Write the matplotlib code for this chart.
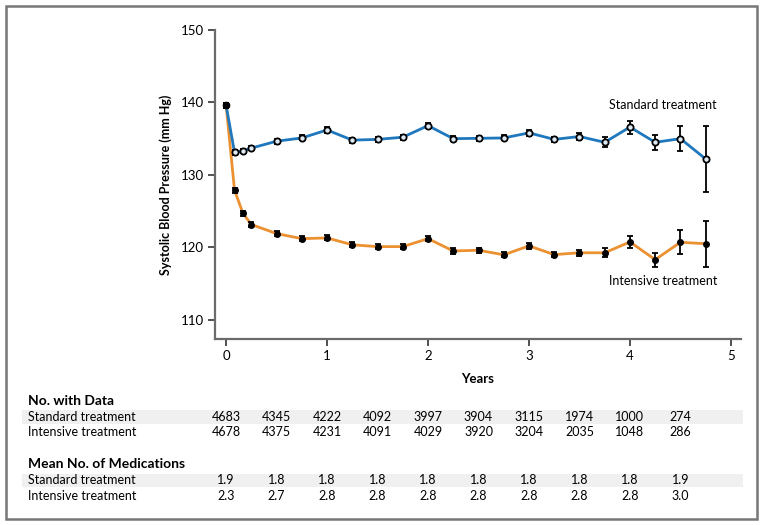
import matplotlib
matplotlib.use("Agg")
import matplotlib.pyplot as plt
from matplotlib.transforms import blended_transform_factory
from matplotlib.patches import Rectangle

plt.rcParams['font.family'] = ['Lato', 'DejaVu Sans']

years = [0, 1/12, 2/12, 0.25, 0.5, 0.75, 1.0, 1.25, 1.5, 1.75, 2.0, 2.25,
         2.5, 2.75, 3.0, 3.25, 3.5, 3.75, 4.0, 4.25, 4.5, 4.75]
standard_sbp = [139.6, 133.1, 133.3, 133.7, 134.65, 135.1, 136.2, 134.8, 134.9,
                135.2, 136.8, 135.0, 135.05, 135.1, 135.8, 134.9, 135.3, 134.5,
                136.6, 134.5, 135.0, 132.2]
standard_err = [0.3, 0.35, 0.3, 0.3, 0.35, 0.35, 0.35, 0.35, 0.35, 0.35, 0.35,
                0.35, 0.35, 0.35, 0.4, 0.4, 0.45, 0.7, 0.9, 1.05, 1.7, 4.5]
intensive_sbp = [139.6, 127.9, 124.7, 123.15, 121.9, 121.2, 121.3, 120.35, 120.1,
                 120.1, 121.2, 119.5, 119.6, 118.97, 120.2, 119.0, 119.25, 119.25,
                 120.75, 118.3, 120.7, 120.5]
intensive_err = [0.3, 0.35, 0.35, 0.35, 0.35, 0.35, 0.35, 0.35, 0.35, 0.35, 0.35,
                 0.35, 0.35, 0.35, 0.4, 0.4, 0.45, 0.6, 0.85, 0.95, 1.65, 3.15]

table_years = [0, 0.5, 1.0, 1.5, 2.0, 2.5, 3.0, 3.5, 4.0, 4.5]
n_standard = ["4683", "4345", "4222", "4092", "3997", "3904", "3115", "1974", "1000", "274"]
n_intensive = ["4678", "4375", "4231", "4091", "4029", "3920", "3204", "2035", "1048", "286"]
med_standard = ["1.9", "1.8", "1.8", "1.8", "1.8", "1.8", "1.8", "1.8", "1.8", "1.9"]
med_intensive = ["2.3", "2.7", "2.8", "2.8", "2.8", "2.8", "2.8", "2.8", "2.8", "3.0"]

BLUE = '#1f78bd'
ORANGE = '#ec9131'
W, H = 764, 525

fig = plt.figure(figsize=(7.64, 5.25), dpi=100)
ax = fig.add_axes([215/W, 1 - 339/H, (741-215)/W, (339-30)/H])

ax.plot(years, intensive_sbp, color=ORANGE, lw=2, zorder=2)
ax.plot(years, standard_sbp, color=BLUE, lw=2, zorder=2)
ax.errorbar(years, intensive_sbp, yerr=intensive_err, fmt='o', color='black',
            ms=4, capsize=2.5, elinewidth=1.3, capthick=1.3, zorder=3)
ax.errorbar(years[1:], standard_sbp[1:], yerr=standard_err[1:], fmt='o', color='black',
            mfc='#dde9f3', mec='black', mew=1.3, ms=4.5, capsize=2.5,
            elinewidth=1.3, capthick=1.3, zorder=3)
ax.errorbar(years[:1], standard_sbp[:1], yerr=standard_err[:1], fmt='o', color='black',
            ms=4.5, capsize=2.5, elinewidth=1.3, capthick=1.3, zorder=4)

ax.set_xlim(-0.11, 5.1)
ax.set_ylim(107.35, 150)
ax.set_xticks([0, 1, 2, 3, 4, 5])
ax.set_yticks([110, 120, 130, 140, 150])
for s in ['top', 'right']:
    ax.spines[s].set_visible(False)
for s in ['left', 'bottom']:
    ax.spines[s].set_color('#6b6b6b')
    ax.spines[s].set_linewidth(1.6)
ax.tick_params(direction='out', length=5, width=1.2, color='#333333',
               labelsize=9.5, pad=3)
ax.set_xlabel('Years', fontsize=9.5, fontweight='bold', labelpad=8)
ax.set_ylabel('Systolic Blood Pressure (mm Hg)', fontsize=9, fontweight='bold',
              labelpad=6)

ax.text(3.79, 139.66, 'Standard treatment', fontsize=9, va='center', ha='left')
ax.text(3.79, 115.3, 'Intensive treatment', fontsize=9, va='center', ha='left')

# Table beneath
tr = blended_transform_factory(ax.transData, fig.transFigure)

def fy(p):
    return 1 - p / H

for y0, y1 in [(410, 424), (474, 487)]:
    fig.patches.append(Rectangle((22/W, fy(y1)), (743-22)/W, (y1-y0)/H,
                                 transform=fig.transFigure, facecolor='#f0f0f0',
                                 edgecolor='none', zorder=0))

fig.text(28/W, fy(401), 'No. with Data', fontsize=10, fontweight='bold', va='center')
fig.text(28/W, fy(417), 'Standard treatment', fontsize=9, va='center')
fig.text(28/W, fy(432), 'Intensive treatment', fontsize=9, va='center')
fig.text(28/W, fy(464), 'Mean No. of Medications', fontsize=10, fontweight='bold', va='center')
fig.text(28/W, fy(480), 'Standard treatment', fontsize=9, va='center')
fig.text(28/W, fy(496), 'Intensive treatment', fontsize=9, va='center')

for row_vals, ypix in [(n_standard, 417), (n_intensive, 432),
                       (med_standard, 480), (med_intensive, 496)]:
    for xv, txt in zip(table_years, row_vals):
        fig.text(xv, fy(ypix), txt, transform=tr, fontsize=9, ha='center', va='center')

# Outer frame
fig.patches.append(Rectangle((6/W, fy(519)), (757-6)/W, (519-6)/H,
                             transform=fig.transFigure, facecolor='none',
                             edgecolor='#777777', lw=1.8, zorder=5))

fig.savefig('out.png', dpi=100)
